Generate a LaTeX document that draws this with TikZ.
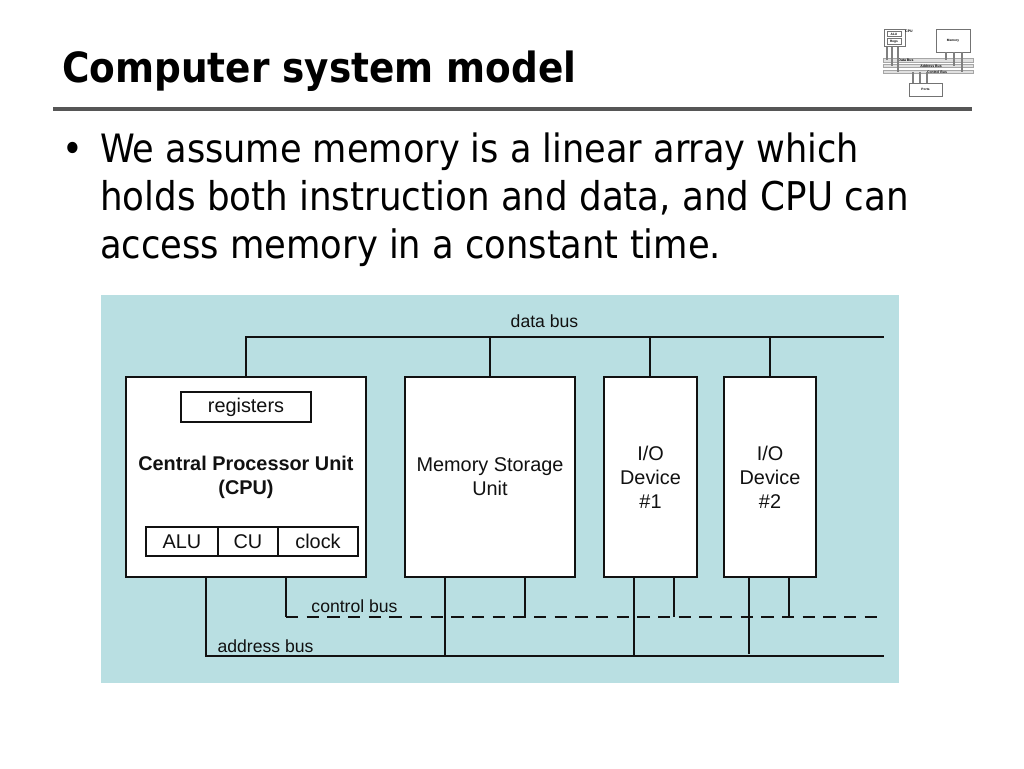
\documentclass[tikz,border=0pt]{standalone}
\usepackage{fontspec}
\setmainfont{Liberation Sans}
\newfontfamily\slidefont{DejaVu Sans Condensed}
\definecolor{panel}{HTML}{B9DFE2}
\definecolor{rulegray}{HTML}{565656}
\definecolor{ink}{HTML}{111111}
\tikzset{
  x=0.75pt,y=-0.75pt,
  box/.style={draw=ink,fill=white,line width=0.9pt,inner sep=0pt,align=center,font=\fontsize{14.9}{18}\selectfont,text=ink},
  wire/.style={draw=ink,line width=0.9pt},
  dashwire/.style={wire,dash pattern=on 9.3pt off 6.2pt},
  lbl/.style={inner sep=0pt,font=\fontsize{13.2}{15}\selectfont,text=ink},
  slide/.style={anchor=base west,inner sep=0pt,font=\slidefont\fontsize{29.3}{36}\selectfont},
  mini/.style={draw=black!55,fill=white,line width=0.5pt,inner sep=0pt,font=\fontsize{2.4}{3}\selectfont\bfseries},
  miniwire/.style={draw=black!50,line width=0.9pt},
  minibus/.style={draw=black!35,fill=black!12,line width=0.4pt,inner sep=0pt},
  minilbl/.style={inner sep=0pt,font=\fontsize{2.6}{3}\selectfont\bfseries}
}
\begin{document}
\begin{tikzpicture}
\useasboundingbox (0,0) rectangle (1024,768);
\fill[white] (0,0) rectangle (1024,768);
% title
\node[anchor=base west,inner sep=0pt,font=\slidefont\bfseries\fontsize{31.2}{36}\selectfont] (title) at (62,82) {Computer system model};
\coordinate (rl) at (53,109);
\coordinate (rr) at (972,109);
\draw[rulegray,line width=3pt] (rl) -- (rr);
% body
\node[slide] (bullet) at (62,162) {•};
\node[slide] (l1) at (100,162) {We assume memory is a linear array which};
\node[slide,font=\slidefont\fontsize{29.73}{36}\selectfont] (l2) at (100,210) {holds both instruction and data, and CPU can};
\node[slide,font=\slidefont\fontsize{29.43}{36}\selectfont] (l3) at (100,258) {access memory in a constant time.};
% panel
\fill[panel] (101,295) rectangle (899,683);
% boxes
\node[box,minimum width=240*0.75pt,minimum height=200*0.75pt] (cpu) at (246,477) {};
\node[box,minimum width=170*0.75pt,minimum height=200*0.75pt] (mem) at (490,477) {Memory Storage\\Unit};
\node[box,minimum width=93*0.75pt,minimum height=200*0.75pt] (io1) at (650.5,477) {I/O\\Device\\\#1};
\node[box,minimum width=92*0.75pt,minimum height=200*0.75pt] (io2) at (770,477) {I/O\\Device\\\#2};
\node[box,minimum width=130*0.75pt,minimum height=30*0.75pt] (reg) at (246,407) {registers};
\node[box,draw=none,fill=none,font=\fontsize{14.9}{18}\selectfont\bfseries] (cpul) at (246,477.5) {Central Processor Unit\\(CPU)};
\node[box,minimum width=72*0.75pt,minimum height=29*0.75pt] (alu) at (182,541.5) {ALU};
\node[box,minimum width=60*0.75pt,minimum height=29*0.75pt] (cu) at (248,541.5) {CU};
\node[box,minimum width=80*0.75pt,minimum height=29*0.75pt] (clk) at (318,541.5) {clock};
% bus ends
\coordinate (dbr) at (884,337);
\coordinate (abl) at (206,656);
\coordinate (abr) at (884,656);
\coordinate (cbl) at (286,617);
\coordinate (cbr) at (878,617);
\coordinate (m1) at (445,656);
\coordinate (m2) at (525,617);
\coordinate (i0) at (650,337);
\coordinate (i1) at (634,656);
\coordinate (i2) at (674,617);
\coordinate (j1) at (749,654);
\coordinate (j2) at (789,617);
% data bus
\draw[wire] (cpu.north) -- (cpu.north |- dbr) -- (dbr);
\draw[wire] (mem.north) -- (mem.north |- dbr);
\draw[wire] (i0 |- io1.north) -- (i0);
\draw[wire] (io2.north) -- (io2.north |- dbr);
% address bus
\draw[wire] (abl |- cpu.south) -- (abl) -- (abr);
\draw[wire] (m1 |- mem.south) -- (m1);
\draw[wire] (i1 |- io1.south) -- (i1);
\draw[wire] (j1 |- io2.south) -- (j1);
% control bus
\draw[wire] (cbl |- cpu.south) -- (cbl);
\draw[dashwire] (cbl) -- (cbr);
\draw[wire] (m2 |- mem.south) -- (m2);
\draw[wire] (i2 |- io1.south) -- (i2);
\draw[wire] (j2 |- io2.south) -- (j2);
% labels
\node[lbl] (ld) at (544.5,321) {data bus};
\node[lbl] (lc) at (354.5,606) {control bus};
\node[lbl] (la) at (265.5,646) {address bus};
% thumbnail
\node[mini,minimum width=15.5pt,minimum height=13pt] (tc) at (895,37.5) {};
\node[mini,minimum width=10.5pt,minimum height=4pt,anchor=north] (ta) at (894,31) {ALU};
\node[mini,minimum width=10.5pt,minimum height=4.5pt,anchor=north] (tr) at (894,38) {Regs};
\node[mini,minimum width=25.5pt,minimum height=17pt] (tm) at (953,40.5) {Memory};
\node[mini,minimum width=25pt,minimum height=10pt] (tp) at (925.5,89.5) {Ports};
\node[minilbl] (tcl) at (909,31) {CPU};
\node[minibus,minimum width=67.5pt,minimum height=3pt] (b1) at (928,60) {};
\node[minibus,minimum width=67.5pt,minimum height=2.5pt] (b2) at (928,66) {};
\node[minibus,minimum width=67.5pt,minimum height=2.5pt] (b3) at (928,72) {};
\node[minilbl] (bl1) at (906,60) {Data Bus};
\node[minilbl] (bl2) at (931,66) {Address Bus};
\node[minilbl] (bl3) at (937,72) {Control Bus};
\foreach \xx/\yy in {887/60,892/66,898/72} {\coordinate (q) at (\xx,\yy); \draw[miniwire] (q |- tc.south) -- (q);}
\foreach \xx/\yy in {946/60,954/66,962/72} {\coordinate (q) at (\xx,\yy); \draw[miniwire] (q |- tm.south) -- (q);}
\foreach \xx/\yy in {913/72,920/72,927/72} {\coordinate (q) at (\xx,\yy); \draw[miniwire] (q |- tp.north) -- (q);}
\end{tikzpicture}
\end{document}
